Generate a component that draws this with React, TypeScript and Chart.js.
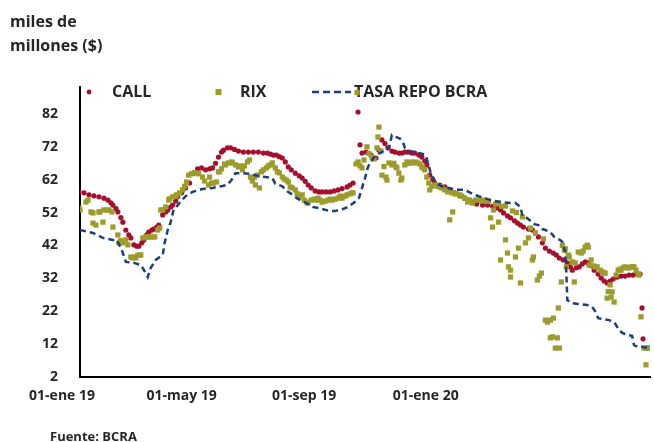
import React, { useEffect, useRef } from "react";
import { Chart, registerables } from "chart.js";

Chart.register(...registerables);

const FONT = "'Open Sans', 'DejaVu Sans', sans-serif";
const TEXT = "#262626";

const titleLines = ["miles de", "millones ($)"];
const sourceText = "Fuente: BCRA";

const xTickDays = [0, 120, 243, 365];
const xTickLabels = ["01-ene 19", "01-may 19", "01-sep 19", "01-ene 20"];
const yTickValues = [2, 12, 22, 32, 42, 52, 62, 72, 82];

const seriesNames = ["CALL", "RIX", "TASA REPO BCRA"];
const seriesColors = ["#a50f2d", "#9c9c2c", "#1f3e7c"];

// days since 01-ene-2019
const callDays = [
  17, 22, 27, 32, 37, 42, 46, 49, 51, 54,
  56, 59, 61, 64, 67, 69, 72, 75, 77, 80,
  82, 85, 87, 90, 92, 95, 97, 101, 104, 106,
  109, 111, 114, 116, 120, 124, 128, 132, 136, 140,
  144, 148, 151, 154, 157, 160, 162, 166, 169, 173,
  177, 182, 187, 192, 197, 202, 206, 209, 212, 215,
  218, 221, 224, 227, 230, 234, 238, 241, 244, 247,
  250, 254, 258, 261, 265, 269, 273, 277, 281, 286,
  289, 292, 297, 299, 301, 305, 310, 315, 318, 321,
  324, 327, 331, 334, 338, 341, 344, 347, 351, 354,
  358, 361, 364, 366, 369, 372, 374, 379, 384, 389,
  394, 399, 404, 408, 412, 416, 422, 427, 432, 437,
  440, 443, 447, 450, 454, 457, 460, 463, 468, 472,
  475, 478, 482, 485, 489, 493, 496, 499, 503, 507,
  510, 512, 516, 519, 522, 525, 528, 531, 534, 538,
  541, 544, 547, 550, 553, 557, 561, 565, 569, 573,
  577, 580, 582, 583,
];
const callValues = [
  58.3, 58.0, 57.4, 57.1, 56.8, 56.4, 55.8, 55.0, 54.3, 53.2,
  52.2, 50.5, 49.1, 46.7, 45.2, 44.3, 42.2, 41.8, 41.8, 42.8,
  43.7, 45.2, 46.1, 46.7, 47.0, 47.6, 48.2, 51.3, 52.2, 52.8,
  53.7, 54.3, 55.5, 56.8, 58.0, 59.5, 61.0, 64.0, 65.3, 65.6,
  65.0, 65.3, 65.6, 67.0, 68.9, 70.4, 71.0, 71.7, 71.7, 71.2,
  70.7, 70.4, 70.4, 70.4, 70.4, 70.1, 70.1, 69.8, 69.5, 69.5,
  69.0, 68.6, 67.4, 65.9, 65.0, 64.0, 63.2, 62.5, 61.5, 60.4,
  59.5, 58.6, 58.3, 58.3, 58.3, 58.3, 58.6, 58.9, 59.3, 59.8,
  60.4, 61.0, 82.6, 72.6, 70.1, 70.4, 69.5, 68.6, 71.0, 74.1,
  73.0, 71.7, 70.7, 70.4, 70.1, 70.1, 70.4, 70.4, 70.1, 70.1,
  69.5, 68.9, 67.7, 66.5, 63.4, 62.0, 61.0, 60.4, 59.8, 58.9,
  58.0, 57.1, 56.4, 55.8, 55.2, 54.6, 54.3, 54.3, 53.9, 53.4,
  52.8, 51.9, 51.0, 50.4, 49.5, 48.8, 48.2, 47.6, 47.0, 46.7,
  45.8, 44.6, 42.8, 41.2, 40.3, 39.7, 39.1, 38.2, 37.6, 36.7,
  35.5, 34.5, 35.2, 35.5, 36.4, 37.0, 36.7, 35.8, 34.5, 33.3,
  32.1, 31.2, 30.6, 31.2, 31.8, 32.4, 32.7, 32.7, 33.0, 33.0,
  33.3, 33.3, 23.0, 13.6,
];

const rixDays = [
  17, 18, 24, 26, 29, 31, 31, 34, 37, 38,
  41, 42, 45, 47, 50, 51, 56, 57, 59, 61,
  64, 66, 69, 71, 73, 74, 76, 78, 79, 81,
  84, 86, 88, 91, 93, 96, 98, 99, 101, 104,
  107, 108, 111, 114, 115, 118, 121, 123, 125, 127,
  130, 133, 134, 137, 141, 143, 147, 148, 150, 152,
  155, 157, 158, 160, 163, 164, 167, 170, 171, 174,
  177, 179, 181, 183, 186, 188, 189, 191, 193, 194,
  196, 198, 200, 202, 205, 207, 209, 211, 214, 216,
  218, 221, 223, 225, 227, 229, 231, 234, 236, 238,
  241, 243, 246, 247, 250, 253, 255, 257, 259, 261,
  264, 267, 269, 271, 274, 277, 279, 281, 284, 286,
  289, 291, 292, 295, 297, 299, 301, 303, 306, 308,
  311, 313, 316, 317, 318, 320, 321, 323, 325, 326,
  328, 331, 333, 335, 336, 338, 340, 341, 344, 346,
  348, 351, 353, 355, 357, 359, 361, 362, 364, 366,
  368, 369, 371, 374, 377, 379, 381, 384, 387, 389,
  391, 392, 394, 396, 399, 401, 404, 407, 409, 412,
  415, 418, 421, 423, 426, 428, 430, 432, 433, 435,
  438, 438, 440, 441, 445, 445, 447, 448, 450, 450,
  452, 455, 456, 458, 460, 462, 465, 468, 470, 472,
  473, 475, 477, 479, 481, 483, 485, 487, 490, 490,
  492, 493, 495, 497, 498, 499, 501, 502, 504, 505,
  506, 508, 509, 512, 514, 515, 518, 521, 523, 525,
  527, 528, 529, 531, 533, 535, 537, 540, 542, 544,
  545, 547, 548, 550, 551, 552, 554, 556, 558, 560,
  561, 563, 565, 567, 569, 571, 573, 574, 576, 578,
  579, 581, 584, 586, 586, 588, 589, 296,
];
const rixValues = [
  53.4, 52.8, 55.2, 55.8, 52.2, 51.9, 48.8, 48.2, 52.2, 52.2,
  49.1, 52.8, 52.8, 52.8, 52.2, 47.6, 45.2, 42.8, 43.5, 42.8,
  43.7, 42.2, 38.5, 38.2, 38.5, 38.2, 39.0, 39.1, 39.1, 44.3,
  44.6, 44.6, 44.6, 44.6, 44.6, 46.7, 47.3, 52.8, 52.8, 53.7,
  55.8, 56.2, 56.8, 57.0, 57.4, 58.0, 58.9, 60.0, 61.3, 63.4,
  63.8, 64.1, 64.1, 63.8, 62.8, 61.6, 60.4, 62.8, 61.0, 61.0,
  61.3, 64.4, 64.4, 65.3, 66.8, 66.5, 67.1, 67.4, 67.1, 66.5,
  65.9, 66.2, 65.0, 66.2, 67.4, 68.0, 62.8, 61.6, 62.8, 60.4,
  63.4, 59.5, 64.4, 65.0, 65.6, 66.2, 66.5, 67.1, 65.6, 64.4,
  64.1, 62.8, 62.2, 61.9, 61.3, 59.8, 59.5, 58.9, 57.7, 56.8,
  57.4, 55.8, 54.9, 55.2, 55.8, 56.1, 55.8, 56.4, 55.8, 55.2,
  55.5, 55.8, 56.1, 55.8, 56.1, 56.4, 57.0, 56.4, 57.0, 57.4,
  57.7, 58.0, 58.0, 66.8, 67.4, 66.2, 65.6, 68.0, 72.0, 70.0,
  68.9, 68.3, 71.7, 75.0, 78.0, 70.7, 63.4, 66.0, 62.8, 61.9,
  67.1, 66.5, 67.0, 65.9, 65.6, 64.0, 61.9, 62.5, 66.5, 67.4,
  67.0, 67.4, 67.1, 67.4, 67.1, 66.8, 65.9, 65.6, 65.0, 62.8,
  61.0, 58.9, 60.0, 60.4, 60.0, 59.8, 59.5, 58.9, 58.3, 49.8,
  58.0, 52.2, 57.7, 57.7, 57.4, 57.0, 56.4, 55.2, 55.8, 54.9,
  55.8, 55.8, 55.5, 55.8, 55.5, 55.5, 50.4, 47.6, 52.8, 54.6,
  49.1, 54.9, 37.6, 53.9, 43.7, 54.0, 39.7, 35.5, 32.4, 34.5,
  52.5, 38.5, 52.0, 41.2, 30.6, 50.7, 42.8, 44.3, 47.3, 37.6,
  38.5, 45.8, 31.5, 32.7, 33.6, 44.0, 19.3, 18.7, 13.9, 19.3,
  14.2, 19.9, 10.8, 13.9, 23.0, 10.8, 30.9, 42.0, 40.6, 41.0,
  35.5, 39.1, 38.5, 37.0, 30.9, 36.7, 40.0, 39.7, 40.3, 41.5,
  42.1, 41.5, 36.0, 37.6, 35.8, 35.5, 35.5, 34.5, 34.0, 33.6,
  33.6, 26.0, 28.0, 30.0, 26.3, 27.9, 24.8, 33.0, 34.5, 34.8,
  34.5, 35.2, 35.5, 35.2, 35.2, 35.5, 35.5, 35.5, 34.5, 33.3,
  33.0, 20.3, 10.8, 5.7, 10.8, 10.8, 10.8, 88.5,
];

const repoDays = [
  18, 31, 41, 51, 55, 60, 64, 72, 79, 84,
  86, 89, 94, 98, 101, 103, 106, 109, 112, 114,
  118, 124, 131, 141, 151, 161, 166, 170, 174, 179,
  188, 196, 204, 211, 214, 221, 226, 231, 236, 241,
  247, 252, 257, 262, 268, 274, 281, 287, 291, 295,
  298, 301, 304, 307, 311, 315, 319, 324, 328, 331,
  335, 339, 342, 344, 349, 354, 360, 365, 370, 375,
  381, 388, 395, 404, 413, 423, 430, 440, 450, 455,
  460, 462, 465, 470, 474, 478, 482, 485, 490, 494,
  499, 502, 505, 506, 507, 511, 518, 527, 532, 535,
  538, 543, 549, 554, 558, 562, 568, 572, 574, 578,
  583, 590,
];
const repoValues = [
  46.7, 45.8, 44.3, 43.7, 43.7, 40.6, 37.0, 36.7, 36.1, 33.6,
  32.4, 35.2, 37.6, 38.5, 39.1, 42.8, 46.7, 49.1, 53.0, 53.5,
  55.0, 57.0, 58.3, 59.2, 59.5, 60.1, 60.5, 61.9, 64.0, 64.0,
  63.8, 63.2, 62.8, 62.5, 60.8, 60.0, 58.5, 57.5, 56.3, 55.5,
  54.6, 53.7, 53.4, 53.0, 52.5, 52.5, 53.0, 53.7, 54.6, 55.5,
  56.5, 59.5, 62.5, 65.9, 68.0, 69.5, 70.1, 71.0, 71.5, 75.6,
  75.0, 74.5, 73.5, 71.7, 70.7, 70.4, 70.0, 69.5, 64.0, 61.0,
  60.0, 59.5, 59.0, 58.9, 57.5, 56.5, 55.8, 55.2, 54.9, 54.9,
  53.7, 51.0, 50.7, 49.5, 48.5, 48.2, 47.0, 46.7, 46.1, 44.6,
  43.8, 43.1, 40.0, 34.0, 25.4, 24.5, 24.2, 23.9, 23.3, 22.0,
  19.9, 19.6, 19.3, 18.7, 16.8, 15.4, 14.8, 14.5, 11.7, 11.1,
  11.1, 10.8,
];

const toPoints = (xs: number[], ys: number[]) =>
  xs.slice(0, Math.min(xs.length, ys.length)).map((x, i) => ({ x, y: ys[i] }));

const legendPlugin = {
  id: "fixedLegend",
  beforeDatasetsDraw(chart: any) {
    const ctx = chart.ctx as CanvasRenderingContext2D;
    const y = 92;
    ctx.save();
    ctx.fillStyle = seriesColors[0];
    ctx.beginPath();
    ctx.arc(89, y, 2.4, 0, Math.PI * 2);
    ctx.fill();
    ctx.fillStyle = seriesColors[1];
    ctx.fillRect(215.5, y - 3, 6, 6);
    ctx.strokeStyle = seriesColors[2];
    ctx.lineWidth = 2.5;
    ctx.setLineDash([7, 4]);
    ctx.beginPath();
    ctx.moveTo(312, y);
    ctx.lineTo(351, y);
    ctx.stroke();
    ctx.setLineDash([]);
    ctx.fillStyle = TEXT;
    ctx.font = `bold 16px ${FONT}`;
    ctx.textBaseline = "middle";
    ctx.textAlign = "left";
    ctx.fillText(seriesNames[0], 112, y);
    ctx.fillText(seriesNames[1], 240, y);
    ctx.fillText(seriesNames[2], 354, y);
    ctx.restore();
  },
};

export default function App() {
  const canvasRef = useRef<HTMLCanvasElement | null>(null);

  useEffect(() => {
    if (!canvasRef.current) return;
    const tickFont = { family: FONT, size: 14, weight: "bold" as const };
    const chart = new Chart(canvasRef.current, {
      type: "scatter",
      data: {
        datasets: [
          {
            label: seriesNames[2],
            data: toPoints(repoDays, repoValues),
            showLine: true,
            borderColor: seriesColors[2],
            borderWidth: 2.5,
            borderDash: [6, 4],
            pointRadius: 0,
            fill: false,
            order: 0,
          },
          {
            label: seriesNames[1],
            data: toPoints(rixDays, rixValues),
            pointStyle: "rect",
            pointRadius: 3.7,
            backgroundColor: seriesColors[1],
            borderWidth: 0,
            order: 1,
          },
          {
            label: seriesNames[0],
            data: toPoints(callDays, callValues),
            pointStyle: "circle",
            pointRadius: 2.6,
            backgroundColor: seriesColors[0],
            borderWidth: 0,
            order: 2,
          },
        ],
      },
      options: {
        responsive: false,
        animation: false,
        devicePixelRatio: 1,
        layout: { padding: { top: 87, right: 2, left: 0, bottom: 0 } },
        plugins: {
          legend: { display: false },
          tooltip: { enabled: false },
          title: { display: false },
        },
        scales: {
          x: {
            type: "linear",
            min: 18,
            max: 590,
            grid: { display: false, drawTicks: false },
            border: { display: true, color: "#000", width: 2 },
            ticks: {
              autoSkip: false,
              maxRotation: 0,
              padding: 11,
              color: TEXT,
              font: tickFont,
              callback: (_v: any, i: number) => xTickLabels[i] ?? "",
            },
            afterBuildTicks: (s: any) => {
              s.ticks = xTickDays.map((v) => ({ value: v }));
            },
            afterFit: (s: any) => {
              s.height = 65;
            },
          },
          y: {
            type: "linear",
            min: 2,
            max: 90.2,
            grid: { display: false, drawTicks: false },
            border: { display: true, color: "#000", width: 2 },
            ticks: {
              padding: 22,
              color: TEXT,
              font: tickFont,
            },
            afterBuildTicks: (s: any) => {
              s.ticks = yTickValues.map((v) => ({ value: v }));
            },
            afterFit: (s: any) => {
              s.width = 80;
            },
          },
        },
      },
      plugins: [legendPlugin],
    });
    return () => chart.destroy();
  }, []);

  const textStyle: React.CSSProperties = {
    position: "absolute",
    fontFamily: FONT,
    fontWeight: "bold",
    color: TEXT,
    whiteSpace: "nowrap",
  };

  return (
    <div style={{ position: "absolute", left: 0, top: 0, width: 654, height: 442, background: "#fff", overflow: "hidden" }}>
      <canvas ref={canvasRef} width={654} height={442} style={{ position: "absolute", left: 0, top: 0 }} />
      <div style={{ ...textStyle, left: 10, top: 9, fontSize: 16, lineHeight: "24px" }}>
        {titleLines.map((t) => (
          <div key={t}>{t}</div>
        ))}
      </div>
      <div style={{ ...textStyle, left: 50, top: 428, fontSize: 13, lineHeight: "16px" }}>{sourceText}</div>
    </div>
  );
}
